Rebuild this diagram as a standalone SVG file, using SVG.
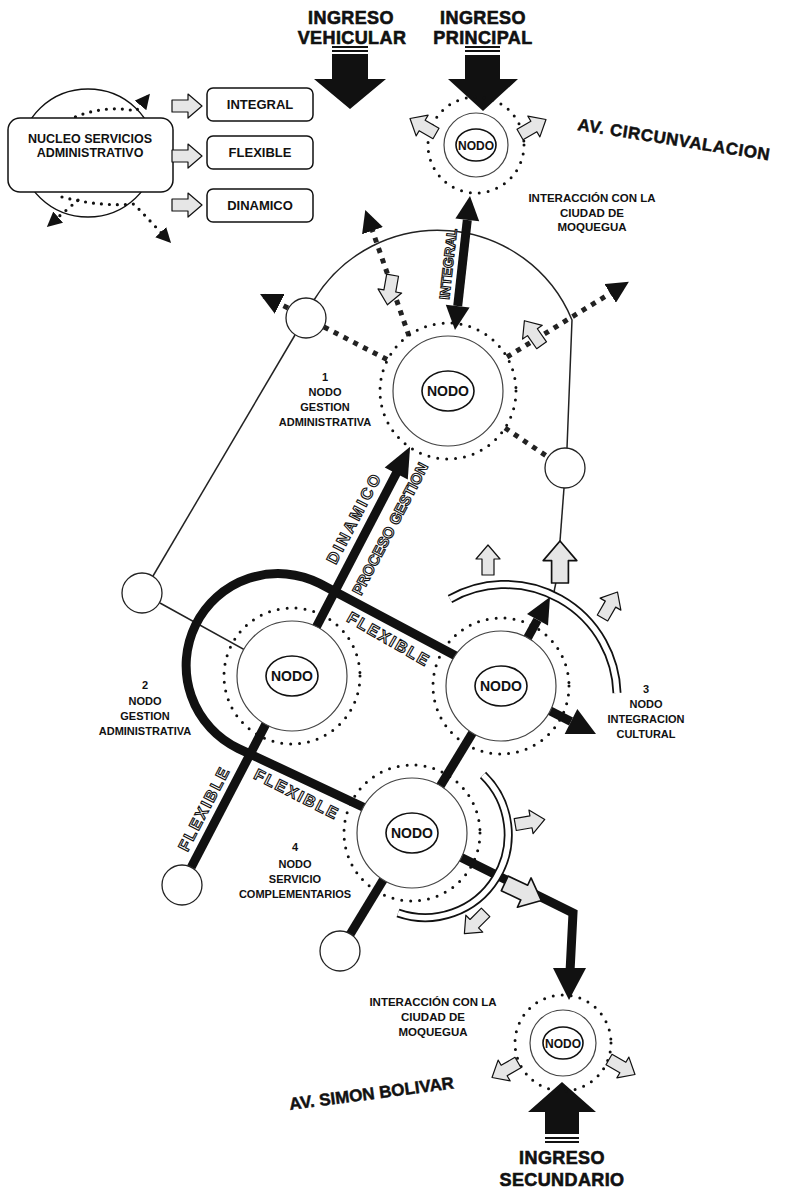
<svg xmlns="http://www.w3.org/2000/svg" width="789" height="1192" viewBox="0 0 789 1192">
<defs>
<style>
.t{font-family:"Liberation Sans",Arial,sans-serif;font-weight:bold;fill:#111;text-anchor:middle}
.ts{font-family:"Liberation Sans",Arial,sans-serif;font-weight:bold;fill:#111;text-anchor:start;stroke:#111;stroke-width:0.5}
.lbl{font-size:11px}
.big{font-size:18px;stroke:#111;stroke-width:0.6;letter-spacing:0.4px}
.ot{font-family:"Liberation Sans",Arial,sans-serif;font-weight:bold;fill:#fff;stroke:#111;stroke-width:1.1;text-anchor:middle}
.dots{fill:none;stroke:#111;stroke-width:3;stroke-linecap:round;stroke-dasharray:0 9}
.ldots{fill:none;stroke:#111;stroke-width:3.2;stroke-linecap:round;stroke-dasharray:0 8}
.solid{fill:#fff;stroke:#444;stroke-width:1.2}
.core{fill:#fff;stroke:#111;stroke-width:1.6}
.sq{fill:none;stroke:#222;stroke-width:5;stroke-dasharray:5 6}
.thin{fill:none;stroke:#222;stroke-width:1.5}
.bar{fill:none;stroke:#111;stroke-width:9}
.small{fill:#fff;stroke:#222;stroke-width:1.3}
.ha{fill:#e6e6e6;stroke:#111;stroke-width:1.2;stroke-linejoin:round}
.bandO{fill:none;stroke:#111;stroke-width:9}
.bandI{fill:none;stroke:#fff;stroke-width:5.5}
.box{fill:#fff;stroke:#111;stroke-width:1.5}
</style>
<path id="ha" d="M -15 -6 L 1 -6 L 1 -12 L 15 0 L 1 12 L 1 6 L -15 6 Z"/>
<marker id="tri" viewBox="0 0 10 10" refX="9" refY="5" markerWidth="22" markerHeight="22" markerUnits="userSpaceOnUse" orient="auto"><path d="M0,0 L10,5 L0,10 z" fill="#111"/></marker>
<marker id="tris" viewBox="0 0 10 10" refX="9" refY="5" markerWidth="15" markerHeight="15" markerUnits="userSpaceOnUse" orient="auto"><path d="M0,0 L10,5 L0,10 z" fill="#111"/></marker>
</defs>
<rect width="789" height="1192" fill="#fff"/>

<g id="legend">
  <ellipse cx="88" cy="153" rx="67" ry="64" fill="none" stroke="#111" stroke-width="1.3"/>
  <path class="ldots" d="M 68 120 Q 102 104 136 111 L 149 95" marker-end="url(#tris)"/>
  <path class="ldots" d="M 78 200 L 48 226" marker-end="url(#tris)"/>
  <path class="ldots" d="M 62 197 Q 100 207 134 204 L 170 242" marker-end="url(#tris)"/>
  <rect x="8" y="118" width="165" height="74" rx="12" class="box"/>
  <text class="t" x="90" y="143" font-size="12.5">NUCLEO SERVICIOS</text>
  <text class="t" x="90" y="157" font-size="12.5">ADMINISTRATIVO</text>
  <use href="#ha" class="ha" transform="translate(187 106)"/>
  <use href="#ha" class="ha" transform="translate(187 156)"/>
  <use href="#ha" class="ha" transform="translate(187 205)"/>
  <rect x="207" y="88" width="106" height="33" rx="6" class="box"/>
  <rect x="207" y="136" width="106" height="33" rx="6" class="box"/>
  <rect x="207" y="189" width="106" height="33" rx="6" class="box"/>
  <text class="t" x="260" y="109" font-size="13">INTEGRAL</text>
  <text class="t" x="260" y="157" font-size="13">FLEXIBLE</text>
  <text class="t" x="260" y="210" font-size="13">DINAMICO</text>
</g>

<g id="connectors">
  <path class="thin" d="M 314 300 A 145 145 0 0 1 572 320 L 567 448"/>
  <path class="thin" d="M 295 335 L 153 576"/>
  <path class="thin" d="M 160 603 L 292 676"/>
  <path class="thin" d="M 564 488 L 560 541"/>
  <path class="thin" d="M 556 582 L 554 592"/>
  <path class="sq" d="M 324 327 L 388 360"/>
  <path class="sq" d="M 409 336 L 366 212" marker-end="url(#tri)"/>
  <path class="sq" d="M 288 308 L 262 295" marker-end="url(#tri)"/>
  <path class="sq" d="M 507 357 L 627 283" marker-end="url(#tri)"/>
  <path class="sq" d="M 505 428 L 548 457"/>
  <path class="bar" d="M 467.3 220 L 457.7 306"/>
  <polygon points="470,196 455.4,218.6 479.2,221.2" fill="#111"/>
  <polygon points="455,330 445.8,304.8 469.6,307.4" fill="#111"/>
  <path class="bar" d="M 501 680 L 319.7 583.5 A 92 92 0 1 0 238.5 748.6 L 412 830"/>
  <path class="bar" d="M 501 686 L 340 951"/>
  <path class="bar" d="M 412 833 L 573 913 L 570 972" stroke-linejoin="miter"/>
  <polygon points="553,968 586,968 569,1000" fill="#111"/>
  <path class="bar" d="M 501 686 L 537.5 619.8"/>
  <polygon points="550,597 527,614 548,625.6" fill="#111"/>
  <path class="bar" d="M 501 686 L 571 721.4"/>
  <polygon points="596,734 564.7,733.9 577.3,708.9" fill="#111"/>
  <g transform="translate(182 885) rotate(-62.5)">
    <path class="bar" d="M 20 0 L 466 0"/>
    <polygon points="464,-13 494,0 464,13" fill="#111"/>
  </g>
  <path d="M 332 47 H 368 M 332 51 H 368" stroke="#111" stroke-width="2"/>
  <polygon points="332,54 368,54 368,79 386,79 350,109 314,79 332,79" fill="#111"/>
  <path d="M 465 47 H 500 M 465 51 H 500" stroke="#111" stroke-width="2"/>
  <polygon points="465,55 500,55 500,79 518,79 483,111 448,79 465,79" fill="#111"/>
  <polygon points="562,1082 596,1112 579,1112 579,1134 545,1134 545,1112 528,1112" fill="#111"/>
  <path d="M 545 1138 H 579 M 545 1142 H 579" stroke="#111" stroke-width="2"/>
  <path class="bandO" d="M 450 599 A 112 112 0 0 1 617 693"/>
  <path class="bandI" d="M 450 599 A 112 112 0 0 1 617 693"/>
  <path class="bandO" d="M 483 775 A 83 83 0 0 1 398 913"/>
  <path class="bandI" d="M 483 775 A 83 83 0 0 1 398 913"/>
</g>

<g id="node-top">
  <circle cx="476" cy="145" r="48" class="dots"/>
  <circle cx="476" cy="145" r="32" class="solid"/>
  <ellipse cx="476" cy="145" rx="20" ry="16" class="core"/>
  <text class="t" x="476" y="149.5" font-size="12">NODO</text>
</g>
<g id="node-1">
  <circle cx="448" cy="391" r="68" class="dots"/>
  <circle cx="448" cy="391" r="55" class="solid"/>
  <ellipse cx="448" cy="391" rx="26" ry="20" class="core"/>
  <text class="t" x="448" y="396" font-size="14">NODO</text>
</g>
<g id="node-2">
  <circle cx="292" cy="676" r="68" class="dots"/>
  <circle cx="292" cy="676" r="55" class="solid"/>
  <ellipse cx="292" cy="676" rx="26" ry="20" class="core"/>
  <text class="t" x="292" y="681" font-size="14">NODO</text>
</g>
<g id="node-3">
  <circle cx="501" cy="686" r="68" class="dots"/>
  <circle cx="501" cy="686" r="55" class="solid"/>
  <ellipse cx="501" cy="686" rx="26" ry="20" class="core"/>
  <text class="t" x="501" y="691" font-size="14">NODO</text>
</g>
<g id="node-4">
  <circle cx="412" cy="833" r="68" class="dots"/>
  <circle cx="412" cy="833" r="55" class="solid"/>
  <ellipse cx="412" cy="833" rx="26" ry="20" class="core"/>
  <text class="t" x="412" y="838" font-size="14">NODO</text>
</g>
<g id="node-bottom">
  <circle cx="563" cy="1043" r="48" class="dots"/>
  <circle cx="563" cy="1043" r="33" class="solid"/>
  <ellipse cx="563" cy="1043" rx="20" ry="16" class="core"/>
  <text class="t" x="563" y="1047.5" font-size="12">NODO</text>
</g>

<g id="joints">
  <circle cx="306" cy="318" r="20" class="small"/>
  <circle cx="565" cy="468" r="20" class="small"/>
  <circle cx="142" cy="593" r="20" class="small"/>
  <circle cx="182" cy="885" r="20" class="small"/>
  <circle cx="340" cy="951" r="20" class="small"/>
</g>

<g id="hollow-arrows">
  <use href="#ha" class="ha" transform="translate(423 126) rotate(-150)"/>
  <use href="#ha" class="ha" transform="translate(533 127) rotate(-30)"/>
  <use href="#ha" class="ha" transform="translate(390 290) rotate(100)"/>
  <use href="#ha" class="ha" transform="translate(533 333) rotate(-125)"/>
  <use href="#ha" class="ha" transform="translate(488 560) rotate(-90)"/>
  <use href="#ha" class="ha" transform="translate(560 562) rotate(-90) scale(1.4)"/>
  <use href="#ha" class="ha" transform="translate(610 605) rotate(-60)"/>
  <use href="#ha" class="ha" transform="translate(530 822) rotate(-10)"/>
  <use href="#ha" class="ha" transform="translate(523 892) rotate(25) scale(1.35)"/>
  <use href="#ha" class="ha" transform="translate(475 923) rotate(135)"/>
  <use href="#ha" class="ha" transform="translate(505 1070) rotate(150)"/>
  <use href="#ha" class="ha" transform="translate(622 1067) rotate(30)"/>
</g>

<g id="labels">
  <text class="t big" x="351" y="24">INGRESO</text>
  <text class="t big" x="352" y="44">VEHICULAR</text>
  <text class="t big" x="483" y="24">INGRESO</text>
  <text class="t big" x="483" y="44">PRINCIPAL</text>
  <text class="t big" x="562" y="1164">INGRESO</text>
  <text class="t big" x="562" y="1186">SECUNDARIO</text>
  <text class="ts" x="577" y="130" font-size="17" letter-spacing="0.6" transform="rotate(9 577 130)">AV. CIRCUNVALACION</text>
  <text class="ts" x="290" y="1110" font-size="17" transform="rotate(-7.5 290 1110)">AV. SIMON BOLIVAR</text>
  <text class="t" x="592" y="202" font-size="11.5">INTERACCIÓN CON LA</text>
  <text class="t" x="592" y="217" font-size="11.5">CIUDAD DE</text>
  <text class="t" x="592" y="231" font-size="11.5">MOQUEGUA</text>
  <text class="t" x="433" y="1006" font-size="11.5">INTERACCIÓN CON LA</text>
  <text class="t" x="433" y="1021" font-size="11.5">CIUDAD DE</text>
  <text class="t" x="433" y="1036" font-size="11.5">MOQUEGUA</text>
  <text class="t lbl" x="325" y="381">1</text>
  <text class="t lbl" x="325" y="396">NODO</text>
  <text class="t lbl" x="325" y="411">GESTION</text>
  <text class="t lbl" x="325" y="426">ADMINISTRATIVA</text>
  <text class="t lbl" x="145" y="689">2</text>
  <text class="t lbl" x="145" y="705">NODO</text>
  <text class="t lbl" x="145" y="720">GESTION</text>
  <text class="t lbl" x="145" y="735">ADMINISTRATIVA</text>
  <text class="t lbl" x="646" y="693">3</text>
  <text class="t lbl" x="646" y="708">NODO</text>
  <text class="t lbl" x="646" y="723">INTEGRACION</text>
  <text class="t lbl" x="646" y="738">CULTURAL</text>
  <text class="t lbl" x="295" y="851">4</text>
  <text class="t lbl" x="295" y="868">NODO</text>
  <text class="t lbl" x="295" y="883">SERVICIO</text>
  <text class="t lbl" x="295" y="898">COMPLEMENTARIOS</text>
  <text class="ot" x="448" y="264" font-size="14" dy="0.36em" transform="rotate(-83.6 448 264)">INTEGRAL</text>
  <g transform="translate(182 885) rotate(-62.5)">
    <text class="ot" x="78" y="-16" font-size="16" letter-spacing="2" dy="0.36em">FLEXIBLE</text>
    <text class="ot" x="405" y="-17" font-size="16" letter-spacing="2.5" dy="0.36em">DINAMICO</text>
    <text class="ot" x="412" y="20" font-size="15" dy="0.36em">PROCESO GESTION</text>
  </g>
  <text class="ot" x="389" y="639" font-size="16" letter-spacing="2" dy="0.36em" transform="rotate(30 389 639)">FLEXIBLE</text>
  <text class="ot" x="297" y="794" font-size="16" letter-spacing="2" dy="0.36em" transform="rotate(27 297 794)">FLEXIBLE</text>
</g>
</svg>
